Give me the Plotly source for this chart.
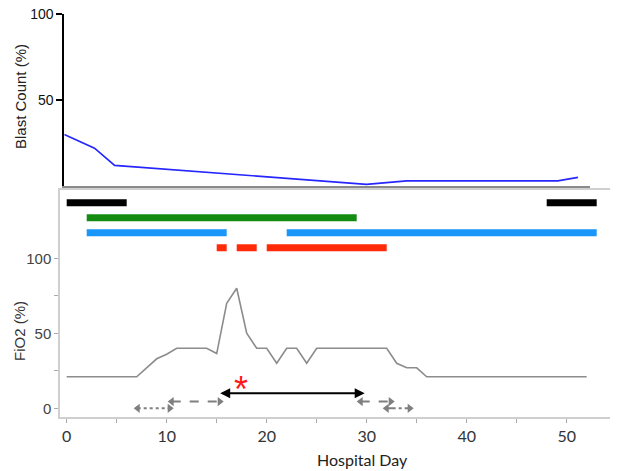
import plotly.graph_objects as go

# ---- data ----
blast_day = [0, 3, 5, 30, 34, 49, 51]
blast_pct = [30, 22, 12, 1, 3, 3, 5]

fio2_day = [0, 7, 9, 10, 11, 14, 15, 16, 17, 18, 19, 20, 21, 22, 23, 24, 25, 32, 33, 34, 35, 36, 52]
fio2_pct = [21, 21, 33, 36, 40, 40, 36.5, 70, 80, 50, 40, 40, 30, 40, 40, 30, 40, 40, 30, 27, 27, 21, 21]

# treatment bars (start, end) per row
black_start = [0, 48]
black_end = [6, 53]
green_start = [2]
green_end = [29]
blue_start = [2, 22]
blue_end = [16, 53]
red_start = [15, 17, 20]
red_end = [16, 19, 32]
bar_levels = [137, 127, 117, 107]

# arrows (start, end, level)
solid_arrow = (15.2, 29.8, 10)
dotted_arrows = [(7.1, 10.3, 0)]
dashed_arrows = [(10.5, 15.3, 4.5), (29.4, 32.4, 4.5)]
dashdot_arrows = [(32.0, 34.3, 0)]
star_pos = (17.4, 18)

# page has an 8px body margin; figure fills the rest of the 618x471 window
OFF = 8
W, H = 618 - OFF, 471 - OFF


def px(x):
    return (x - OFF) / W


def py(y):
    return 1 - (y - OFF) / H


fig = go.Figure()

# top panel
fig.add_trace(go.Scatter(x=blast_day, y=blast_pct, mode="lines",
                         line=dict(color="#2626ff", width=1.7),
                         xaxis="x", yaxis="y", hoverinfo="skip"))

# bottom panel: FiO2
fig.add_trace(go.Scatter(x=fio2_day, y=fio2_pct, mode="lines",
                         line=dict(color="#8c8c8c", width=1.6),
                         xaxis="x2", yaxis="y2", hoverinfo="skip"))


def seg(starts, ends, level):
    xs, ys = [], []
    for s, e in zip(starts, ends):
        xs += [s, e, None]
        ys += [level, level, None]
    return xs, ys


for (st, en, col), lvl in zip([(black_start, black_end, "#000000"),
                                (green_start, green_end, "#148c12"),
                                (blue_start, blue_end, "#1896fa"),
                                (red_start, red_end, "#ff2a08")], bar_levels):
    xs, ys = seg(st, en, lvl)
    fig.add_trace(go.Scatter(x=xs, y=ys, mode="lines",
                             line=dict(color=col, width=7),
                             xaxis="x2", yaxis="y2", hoverinfo="skip"))


def garrow(arrs, dash):
    for s, e, lvl in arrs:
        fig.add_trace(go.Scatter(x=[s, e], y=[lvl, lvl], mode="lines+markers",
                                 line=dict(color="#7f7f7f", width=2, dash=dash),
                                 marker=dict(symbol=["triangle-left", "triangle-right"],
                                             size=8, color="#7f7f7f"),
                                 xaxis="x2", yaxis="y2", hoverinfo="skip"))


garrow(dotted_arrows, "dot")
garrow(dashed_arrows, "dash")
garrow(dashdot_arrows, "dashdot")

fig.add_annotation(x=solid_arrow[1], y=solid_arrow[2], ax=solid_arrow[0], ay=solid_arrow[2],
                   xref="x2", yref="y2", axref="x2", ayref="y2", text="",
                   showarrow=True, arrowhead=2, startarrowhead=2, arrowside="end+start",
                   arrowwidth=2, arrowsize=1, arrowcolor="#000000")

fig.add_annotation(x=star_pos[0], y=star_pos[1], xref="x2", yref="y2", text="*",
                   showarrow=False, yshift=-8,
                   font=dict(family="Arial, Liberation Sans", size=36, color="#ff1a1a"))

# axis titles
fig.add_annotation(x=px(20), y=py(97), xref="paper", yref="paper", text="Blast Count (%)",
                   textangle=-90, showarrow=False, xanchor="center", yanchor="middle",
                   font=dict(family="Liberation Sans, Arial", size=15, color="#222"))
fig.add_annotation(x=px(19), y=py(331), xref="paper", yref="paper", text="FiO2 (%)",
                   textangle=-90, showarrow=False, xanchor="center", yanchor="middle",
                   font=dict(family="Liberation Sans, Arial", size=15, color="#333"))
fig.add_annotation(x=px(362), y=py(459), xref="paper", yref="paper", text="Hospital Day",
                   showarrow=False, xanchor="center", yanchor="middle",
                   font=dict(family="Lato, Open Sans", size=16, color="#222"))

fig.update_layout(
    width=W, height=H, margin=dict(l=0, r=0, t=0, b=0, autoexpand=False),
    paper_bgcolor="white", plot_bgcolor="rgba(0,0,0,0)", showlegend=False,
    xaxis=dict(domain=[px(64.3), px(590)], range=[0, 52.2], showline=True, automargin=False,
               linecolor="#8a8a8a", linewidth=1.5, showgrid=False, zeroline=False,
               showticklabels=False, ticks=""),
    yaxis=dict(domain=[py(186), py(14)], range=[0, 100], showline=True,
               automargin=False, ticklabeloverflow="allow",
               linecolor="#000000", linewidth=2, showgrid=False, zeroline=False,
               tickvals=[50, 100], ticks="outside", ticklen=6, tickwidth=2,
               tickcolor="#000", tickfont=dict(family="Liberation Sans, Arial", size=14, color="#111")),
    xaxis2=dict(domain=[px(60), 1], range=[-0.67, 55.13], anchor="y2", showline=True,
                automargin=False, ticklabeloverflow="allow",
                mirror=True, linecolor="#cfcfcf", linewidth=1.5, showgrid=False,
                zeroline=False, dtick=10, tick0=0, ticks="outside", ticklen=4,
                tickcolor="#aaaaaa", minor=dict(dtick=5, tick0=0, ticks="outside", ticklen=4,
                                                tickcolor="#aaaaaa"),
                tickfont=dict(family="Lato, Open Sans", size=16, color="#333")),
    yaxis2=dict(domain=[py(417), py(190)], range=[-5.8, 145.5], anchor="x2",
                automargin=False, ticklabeloverflow="allow",
                showline=True, linecolor="#cfcfcf", linewidth=1.5, showgrid=False,
                zeroline=False, tickvals=[0, 50, 100], ticks="outside", ticklen=4,
                tickcolor="#aaaaaa",
                minor=dict(tickvals=[25, 75], ticks="outside", ticklen=4, tickcolor="#aaaaaa"),
                tickfont=dict(family="Liberation Sans, Arial", size=15, color="#444")),
)

fig.write_html("out.html")
